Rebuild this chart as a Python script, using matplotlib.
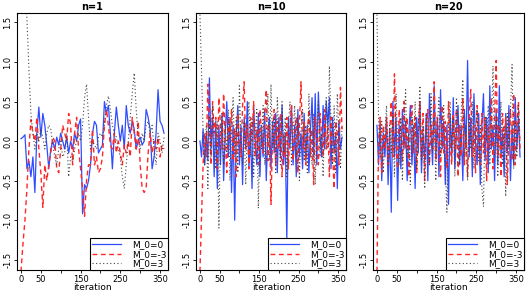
import numpy as np
import matplotlib
matplotlib.use('Agg')
import matplotlib.pyplot as plt

# ==== ==== data ==== ====
titles = ['n=1', 'n=10', 'n=20']
labels = ['M_0=0', 'M_0=-3', 'M_0=3']

iter_n1 = np.arange(0, 361, 5)
blue_n1 = [0.03, 0.05, 0.08, -0.35, -0.25, -0.45, -0.2, -0.65, 0.1, 0.43,
           0.05, 0.35, 0.2, -0.05, -0.35, -0.1, 0.0, -0.1, 0.05, -0.05,
           0.1, 0.0, -0.1, 0.05, -0.15, 0.0, -0.1, 0.1, 0.0, 0.2,
           0.28, -0.92, -0.55, -0.6, -0.5, -0.3, 0.1, 0.25, 0.2, -0.15,
           -0.1, -0.05, 0.5, 0.35, 0.45, 0.1, -0.35, 0.1, 0.43, 0.2,
           0.0, 0.2, -0.1, 0.45, 0.2, 0.1, 0.25, 0.15, -0.1, 0.0,
           0.05, -0.05, 0.0, 0.4, 0.3, 0.15, -0.35, -0.2, 0.1, 0.65,
           0.25, 0.2, 0.1]
red_n1 = [-1.65, -1.3, -1.0, -0.6, -0.1, 0.27, 0.1, 0.0, 0.3, -0.1,
          -0.4, -0.84, -0.3, -0.5, -0.3, -0.15, 0.05, 0.0, -0.35, -0.4,
          -0.1, 0.2, 0.1, 0.0, 0.35, 0.2, -0.3, 0.1, 0.3, -0.1,
          -0.35, -0.6, -0.95, -0.5, -0.3, -0.3, 0.15, -0.3, -0.2, -0.4,
          -0.35, -0.2, 0.2, 0.4, 0.2, -0.05, -0.1, 0.1, -0.15, 0.0,
          -0.15, -0.3, -0.05, -0.15, 0.0, -0.2, 0.3, 0.1, -0.1, 0.25,
          -0.3, -0.6, -0.65, -0.6, -0.15, 0.1, -0.15, 0.0, -0.1, 0.05,
          -0.2, -0.05, -0.1]
gray_n1 = [2.4, 2.1, 1.9, 1.55, 0.9, 0.35, 0.1, -0.1, 0.1, 0.0,
           0.15, 0.05, -0.1, 0.1, 0.2, 0.15, -0.05, -0.2, -0.3, -0.1,
           0.0, -0.2, -0.15, 0.1, -0.45, -0.2, -0.25, -0.1, 0.0, 0.1,
           0.0, 0.2, 0.55, 0.72, 0.3, -0.1, 0.0, -0.05, -0.1, 0.05,
           0.1, 0.05, 0.2, 0.45, 0.57, 0.4, 0.2, 0.1, 0.05, -0.1,
           -0.2, -0.45, -0.6, -0.3, 0.0, 0.3, 0.6, 0.86, 0.4, 0.05,
           -0.1, 0.1, 0.0, 0.2, 0.25, 0.1, 0.2, -0.1, -0.3, 0.1,
           0.0, -0.15, 0.05]

iter_n10 = np.arange(0, 361, 4)
blue_n10 = [0.0, -0.2, 0.15, -0.3, 0.1, -0.25, 0.8, -0.1, 0.3, -0.45,
            0.25, -0.6, 0.2, -0.3, 0.35, -0.5, 0.1, 0.5, -0.2, 0.3,
            -0.65, 0.2, -1.0, 0.1, 0.45, -0.3, 0.2, -0.55, 0.3, -0.1,
            0.5, -0.35, 0.15, -0.6, 0.45, 0.0, -0.3, 0.35, -0.45, 0.2,
            -0.2, 0.4, -0.5, 0.1, 0.3, -0.35, 0.25, -0.15, 0.35, -0.4,
            0.3, -0.2, 0.45, -0.3, 0.1, -1.25, 0.3, -0.1, 0.45, -0.3,
            0.2, -0.45, 0.4, -0.2, 0.1, -0.35, 0.35, -0.25, 0.2, -0.4,
            0.15, 0.55, -0.2, 0.6, -0.3, 0.62, 0.1, -0.2, 0.45, -0.1,
            0.5, 0.2, 0.55, -0.35, 0.3, -0.15, 0.1, -0.6, 0.25, -0.1, 0.05]
red_n10 = [-1.65, -0.95, -0.3, 0.1, -0.2, 0.72, 0.2, -0.3, 0.5, 0.1,
           0.3, -0.35, 0.55, 0.2, -0.1, 0.6, 0.0, -0.4, 0.3, 0.05,
           0.4, -0.25, 0.15, -0.45, 0.35, 0.0, -0.2, 0.45, 0.75, -0.1,
           0.2, -0.35, 0.3, 0.0, 0.5, -0.2, 0.15, -0.3, 0.4, 0.1,
           -0.15, 0.3, 0.65, -0.25, 0.2, -0.8, 0.1, 0.4, -0.3, 0.25,
           -0.1, 0.35, -0.45, 0.1, -0.2, 0.3, -0.35, 0.15, 0.45, -0.25,
           0.05, 0.3, -0.4, 0.2, 0.75, -0.1, 0.25, -0.3, 0.1, 0.4,
           -0.2, 0.15, -0.55, 0.3, 0.0, -0.3, 0.35, 0.1, -0.2, 0.4,
           -0.1, 0.2, -0.45, 0.3, -0.15, -0.6, 0.25, 0.1, -0.3, 0.68, 0.15]
gray_n10 = [1.6, 0.9, 0.1, -0.3, 0.2, -0.6, 0.3, -0.2, 0.45, 0.0,
            -0.35, 0.25, -1.1, 0.1, 0.35, -0.3, 0.2, -0.15, 0.4, -0.5,
            0.1, 0.55, -0.2, 0.3, -0.4, 0.7, 0.0, -0.3, 0.25, -0.55,
            0.15, 0.5, -0.2, 0.3, -0.45, 0.1, 0.4, -0.85, 0.2, -0.1,
            0.45, -0.3, 0.1, 0.6, -0.25, 0.72, -0.1, 0.3, -0.4, 0.55,
            0.0, -0.3, 0.5, -0.15, 0.3, -0.45, 0.2, 0.5, -0.3, 0.1,
            0.45, -0.2, 0.3, -0.5, 0.15, 0.4, -0.25, 0.2, -0.4, 0.6,
            0.0, -0.3, 0.35, -0.55, 0.2, 0.5, -0.2, 0.1, -0.45, 0.3,
            0.55, -0.1, 0.95, 0.2, -0.3, 0.45, -0.4, 0.6, 0.1, -0.35, 0.2]

iter_n20 = np.arange(0, 361, 4)
blue_n20 = [0.2, -0.3, 0.25, -0.5, 0.1, -0.2, 0.3, -0.55, 0.15, -0.9,
            0.5, -0.2, 0.3, -0.75, 0.2, -0.35, 0.4, -0.1, 0.25, -0.5,
            0.1, 0.45, -0.3, 0.2, -0.6, 0.3, -0.15, 0.5, -0.4, 0.1,
            -0.25, 0.35, -0.5, 0.6, 0.1, -0.3, 0.7, -0.2, 0.3, -0.45,
            0.65, -0.1, 0.25, -0.55, 0.2, -0.8, 0.35, -0.2, 0.55, -0.35,
            0.1, 0.45, -0.3, 0.2, -0.5, 0.4, -0.1, 1.02, -0.2, 0.3,
            -0.45, 0.6, 0.0, -0.3, 0.35, -0.55, 0.2, 0.6, -0.25, 0.3,
            -0.4, 0.7, -0.1, 0.2, -0.5, 0.4, -0.3, 0.7, -0.2, 0.1,
            -0.45, 0.35, -0.15, 0.45, -0.5, 0.2, -0.3, 0.55, -0.1, 0.3, -0.2]
red_n20 = [-1.65, 0.0, 0.3, -0.4, 0.2, -0.1, 0.3, -0.3, 0.1, 0.5,
           -0.2, 0.85, 0.0, -0.35, 0.4, 0.1, -0.25, 0.5, -0.1, 0.3,
           -0.45, 0.2, 0.45, -0.15, 0.3, -0.4, 0.15, 0.5, -0.2, 0.35,
           -0.5, 0.1, 0.4, -0.3, 0.2, -0.1, 0.75, -0.25, 0.3, 0.0,
           -0.45, 0.45, -0.15, 0.25, -0.35, 0.5, 0.0, -0.3, 0.35, -0.1,
           0.4, -0.45, 0.2, -0.2, 0.55, -0.3, 0.1, -0.45, 0.3, 0.65,
           -0.2, 0.2, -0.4, 0.45, 0.0, -0.3, 0.35, -0.15, 0.3, -0.5,
           0.2, -0.1, 0.55, -0.35, 0.3, 1.02, -0.2, 0.2, -0.45, 0.35,
           -0.1, 0.3, -0.55, 0.15, 0.4, -0.25, 0.6, -0.3, 0.2, 0.5, -0.1]
gray_n20 = [1.6, 0.3, -0.2, 0.25, -0.4, 0.1, 0.45, -0.3, 0.2, -0.15,
            0.35, -0.45, 0.6, 0.0, -0.3, 0.3, -0.5, 0.2, 0.65, -0.2,
            0.1, -0.55, 0.3, -0.1, 0.5, -0.35, 0.15, 0.7, -0.25, 0.2,
            -0.6, 0.35, 0.0, -0.3, 0.6, -0.15, 0.3, -0.5, 0.2, 0.55,
            -0.2, 0.1, 0.45, -0.35, -0.9, 0.2, 0.5, -0.1, 0.3, -0.45,
            0.55, 0.0, -0.3, 0.35, 0.78, -0.2, 0.2, -0.5, 0.3, -0.1,
            0.5, -0.35, 0.15, 0.4, -0.25, 0.2, -0.6, -0.83, 0.3, 0.0,
            0.45, -0.3, 0.2, 0.95, -0.2, 0.3, -0.45, 0.1, 0.5, -0.3,
            0.2, -0.7, 0.35, -0.1, 0.4, 0.97, -0.35, 0.25, -0.2, 0.45, 0.0]

panels = [
    (iter_n1, blue_n1, red_n1, gray_n1),
    (iter_n10, blue_n10, red_n10, gray_n10),
    (iter_n20, blue_n20, red_n20, gray_n20),
]

# ==== ==== figure ==== ====
W, H = 526, 293
fig = plt.figure(figsize=(W/100, H/100), dpi=100)

lefts = [17, 196, 373]
widths = [151, 150, 151]
top, bottom = 13, 270

xt = [0, 50, 100, 150, 200, 250, 300, 350]
xtl = ['0', '50', '', '150', '', '250', '', '350']
yt = [-1.5, -1.0, -0.5, 0.0, 0.5, 1.0, 1.5]
ytl = ['-1.5', '-1.0', '-0.5', '0.0', '0.5', '1.0', '1.5']

for i, (it, b, r, g) in enumerate(panels):
    ax = fig.add_axes([lefts[i]/W, (H-bottom)/H, widths[i]/W, (bottom-top)/H])
    ax.plot(it, b, color='#2f4dff', lw=0.9, label=labels[0])
    ax.plot(it, r, color='#ff2626', lw=1.0, dashes=(3.5, 2.5), label=labels[1])
    ax.plot(it, g, color='#444444', lw=0.8, dashes=(1, 2.2), label=labels[2])
    ax.set_xlim(-10, 370)
    ax.set_ylim(-1.63, 1.62)
    ax.set_xticks(xt)
    ax.set_xticklabels(xtl, fontsize=6)
    ax.set_yticks(yt)
    ax.set_yticklabels(ytl, fontsize=6, rotation=90, va='center')
    ax.tick_params(direction='out', length=2.5, width=0.6, pad=1)
    for s in ax.spines.values():
        s.set_linewidth(0.8)
    ax.set_title(titles[i], fontsize=7, fontweight='bold', pad=2)
    ax.set_xlabel('iteration', fontsize=6.5, labelpad=-0.5)
    leg = ax.legend(loc='lower right', fontsize=6.5, fancybox=False,
                    edgecolor='black', framealpha=1, borderaxespad=0,
                    handlelength=3.2, borderpad=0.2, labelspacing=0.05,
                    handletextpad=1.2)
    leg.get_frame().set_linewidth(0.8)

fig.savefig('out.png', dpi=100)
